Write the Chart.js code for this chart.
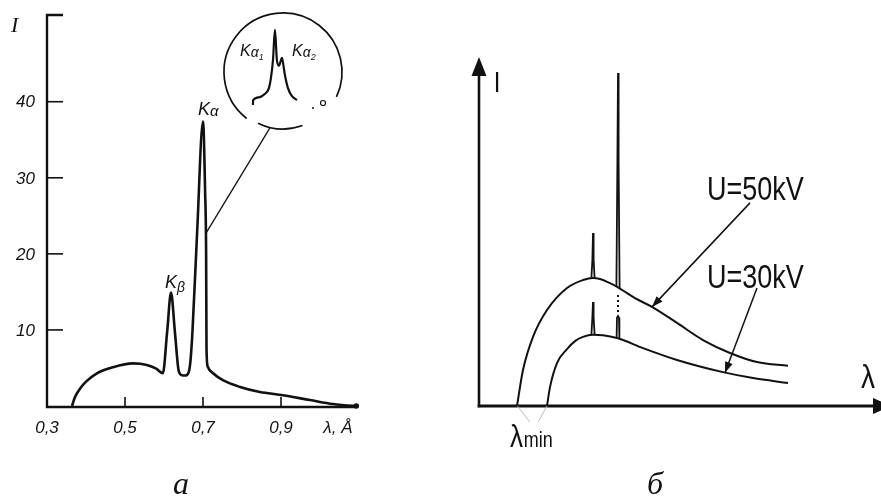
<!DOCTYPE html>
<html>
<head>
<meta charset="utf-8">
<script src="https://cdn.jsdelivr.net/npm/chart.js@4.4.0/dist/chart.umd.min.js"></script>
<style>
  body{margin:0;background:#fff;}
  #wrap{position:relative;width:881px;height:497px;overflow:hidden;background:#fff;}
  canvas{position:absolute;}
</style>
</head>
<body>
<div id="wrap">
  <canvas id="spectrum" width="440" height="497" style="left:0;top:0"></canvas>
  <canvas id="inset" width="136" height="134" style="left:215px;top:5px"></canvas>
  <canvas id="voltage" width="441" height="497" style="left:440px;top:0"></canvas>
</div>
<script>
// ================== DATA: panel a (spectrum) ==================
const lambdaA = [0.364, 0.372, 0.385, 0.400, 0.428, 0.469, 0.520, 0.556, 0.580, 0.597,
  0.608, 0.618, 0.628, 0.637, 0.644, 0.654, 0.663, 0.668, 0.673, 0.685, 0.700,
  0.7055, 0.708, 0.709, 0.712, 0.726, 0.751, 0.795, 0.846, 0.900, 0.974, 1.033, 1.085, 1.095];
const intensityA = [0, 1.2, 2.3, 3.2, 4.3, 5.1, 5.6, 5.4, 4.9, 4.3,
  9.7, 14.9, 9.7, 4.8, 4.1, 4.0, 4.4, 6.0, 9.8, 22.9, 37.4,
  28, 20, 7.5, 5.2, 4.3, 3.4, 2.5, 1.84, 1.45, 0.79, 0.26, 0.02, 0];
const yTicksA = [10, 20, 30, 40];
const xTicksA = [0.3, 0.5, 0.7, 0.9];
const xTickLabelsA = ["0,3", "0,5", "0,7", "0,9"];

// inset: K-alpha doublet
const lambdaInset = [0.6958, 0.6959, 0.6995, 0.7032, 0.7056, 0.7068, 0.7081, 0.7093, 0.7105,
  0.7118, 0.7130, 0.7136, 0.7142, 0.7154, 0.7173, 0.7197, 0.7228];
const intensityInset = [-7, 0, 4, 9, 17, 31, 57, 100, 57, 49, 57, 60, 54, 36, 17, 6, 0];

// ================== DATA: panel б (two voltages) ==================
// continuous spectra
const lambda50 = [9.5, 11, 13.5, 17, 22, 26, 28.5, 30.25, 32.75, 34.75, 39, 43.25, 49.5, 56, 62.75, 69.5, 77.25];
const I50 = [0, 10.3, 19.8, 27.5, 33.8, 36.1, 36.7, 36.4, 35.2, 34.0, 30.9, 28.4, 23.8, 18.9, 15.2, 12.6, 11.5];
const lambda30 = [17, 17.75, 19.5, 22, 24, 26, 28.5, 31, 34.75, 41, 49.5, 61, 68.5, 77.25];
const I30 = [0, 5.4, 12.3, 16.3, 18.6, 19.8, 20.4, 20.3, 19.4, 16.6, 13.2, 9.7, 8.0, 6.6];
// characteristic lines
const lambdaLineB = [28.1, 28.35, 28.5, 28.65, 28.9];
const I50LineB = [36.7, 42, 49.6, 42, 36.6];
const I30LineB = [20.4, 25.5, 29.8, 25.5, 20.4];
const lambdaLineA = [34.35, 34.6, 34.75, 34.9, 35.15];
const I50LineA = [34.2, 70, 95.4, 70, 33.8];
const lambdaStubA = [34.4, 34.5, 34.75, 35.0, 35.1];
const I30StubA = [19.5, 25.3, 25.8, 25.3, 19.3];
const lambdaDots = [34.75, 34.75];
const IDots = [31.8, 26.9];

const INK = '#111';
const toXY = (xs, ys) => xs.map((x, i) => ({x, y: ys[i]}));

// ================== HELPERS ==================
function drawParts(ctx, x, y, parts){
  let cx = x;
  ctx.textAlign = 'left';
  ctx.textBaseline = 'alphabetic';
  parts.forEach(p => {
    ctx.font = `italic ${p.size}px 'Liberation Sans'`;
    ctx.fillText(p.t, cx, y + (p.dy || 0));
    cx += ctx.measureText(p.t).width + (p.gap || 0);
  });
}

function arrowHead(ctx, tx, ty, fx, fy, len, half){
  const d = Math.hypot(tx - fx, ty - fy);
  const ux = (tx - fx) / d, uy = (ty - fy) / d;
  const bx = tx - ux * len, by = ty - uy * len;
  ctx.beginPath();
  ctx.moveTo(tx, ty);
  ctx.lineTo(bx - uy * half, by + ux * half);
  ctx.lineTo(bx + uy * half, by - ux * half);
  ctx.closePath();
  ctx.fill();
}

function stretchedText(ctx, text, x, y, size, align){
  ctx.save();
  ctx.translate(x, y);
  ctx.scale(1, 1.2);
  ctx.font = `${size}px 'Liberation Sans'`;
  ctx.textAlign = align || 'left';
  ctx.textBaseline = 'alphabetic';
  ctx.fillText(text, 0, 0);
  ctx.restore();
}

// ================== PANEL a DECOR ==================
const spectrumDecor = {
  id: 'spectrumDecor',
  afterDraw(chart){
    const {ctx, scales: {x, y}} = chart;
    const px = v => x.getPixelForValue(v), py = v => y.getPixelForValue(v);
    const x0 = px(0.3), y0 = py(0) + 1, yTop = py(y.max);
    ctx.save();
    ctx.strokeStyle = INK; ctx.fillStyle = INK;

    // axes
    ctx.lineWidth = 2.4;
    ctx.beginPath();
    ctx.moveTo(x0 + 16, yTop); ctx.lineTo(x0, yTop); ctx.lineTo(x0, y0); ctx.lineTo(px(1.095), y0);
    ctx.stroke();
    ctx.beginPath(); ctx.arc(px(1.093), y0 - 1, 2.8, 0, Math.PI * 2); ctx.fill();

    // ticks
    ctx.lineWidth = 1.6;
    yTicksA.forEach(v => { ctx.beginPath(); ctx.moveTo(x0, py(v)); ctx.lineTo(x0 + 16, py(v)); ctx.stroke(); });
    xTicksA.slice(1).forEach(v => { ctx.beginPath(); ctx.moveTo(px(v), y0); ctx.lineTo(px(v), y0 - 10); ctx.stroke(); });

    // tick labels
    ctx.font = "italic 17px 'Liberation Sans'";
    ctx.textBaseline = 'middle';
    ctx.textAlign = 'right';
    yTicksA.forEach(v => ctx.fillText(String(v), x0 - 12, py(v) + 1));
    ctx.textAlign = 'center';
    xTicksA.forEach((v, i) => ctx.fillText(xTickLabelsA[i], px(v), y0 + 21));
    ctx.fillText('λ, Å', px(1.046), y0 + 21);

    // axis name
    ctx.font = "italic 22px 'Liberation Serif'";
    ctx.textAlign = 'left';
    ctx.textBaseline = 'alphabetic';
    ctx.fillText('I', 11, 32);

    // peak labels
    drawParts(ctx, px(0.687), py(38.3), [{t: 'K', size: 18}, {t: 'α', size: 15, dy: 1}]);
    drawParts(ctx, px(0.6026), py(15.5), [{t: 'K', size: 18}, {t: 'β', size: 14, dy: 4}]);

    // leader to inset
    ctx.lineWidth = 1.3;
    ctx.beginPath(); ctx.moveTo(px(0.7085), py(22.8)); ctx.lineTo(px(0.872), py(36.6)); ctx.stroke();

    // panel letter
    ctx.font = "italic 32px 'Liberation Serif'";
    ctx.textAlign = 'center';
    ctx.fillText('a', 181, 494);
    ctx.restore();
  }
};

new Chart(document.getElementById('spectrum'), {
  type: 'line',
  data: {datasets: [{
    data: toXY(lambdaA, intensityA),
    borderColor: INK, borderWidth: 2.6, pointRadius: 0,
    cubicInterpolationMode: 'monotone', fill: false, clip: false
  }]},
  options: {
    responsive: false, animation: false,
    layout: {padding: {left: 47, right: 81, top: 15, bottom: 91}},
    scales: {
      x: {type: 'linear', min: 0.3, max: 1.1, display: false},
      y: {type: 'linear', min: 0, max: 51.4, display: false}
    },
    plugins: {legend: {display: false}, tooltip: {enabled: false}}
  },
  plugins: [spectrumDecor]
});

// ================== INSET ==================
const insetDecor = {
  id: 'insetDecor',
  afterDraw(chart){
    const {ctx, chartArea: a} = chart;
    const cx = (a.left + a.right) / 2, cy = (a.top + a.bottom) / 2, r = a.width / 2 - 1;
    const deg = Math.PI / 180;
    ctx.save();
    ctx.strokeStyle = INK; ctx.fillStyle = INK; ctx.lineWidth = 1.7;
    ctx.beginPath(); ctx.arc(cx, cy, r, 128 * deg, 385 * deg); ctx.stroke();
    ctx.beginPath(); ctx.arc(cx, cy, r - 2, 70 * deg, 116 * deg); ctx.stroke();
    ctx.lineWidth = 1.2;
    ctx.beginPath(); ctx.arc(108, 98, 2.5, 0, Math.PI * 2); ctx.stroke();
    ctx.beginPath(); ctx.arc(98, 103, 1, 0, Math.PI * 2); ctx.fill();
    drawParts(ctx, 25, 51, [{t: 'K', size: 16}, {t: 'α', size: 14, dy: 1}, {t: '1', size: 9, dy: 4}]);
    drawParts(ctx, 77, 51, [{t: 'K', size: 16}, {t: 'α', size: 14, dy: 1}, {t: '2', size: 9, dy: 4}]);
    ctx.restore();
  }
};

new Chart(document.getElementById('inset'), {
  type: 'line',
  data: {datasets: [{
    data: toXY(lambdaInset, intensityInset),
    borderColor: INK, borderWidth: 2.2, pointRadius: 0,
    cubicInterpolationMode: 'monotone', fill: false, clip: false
  }]},
  options: {
    responsive: false, animation: false,
    layout: {padding: 8},
    scales: {
      x: {type: 'linear', min: 0.6774, max: 0.7511, display: false},
      y: {type: 'linear', min: -44, max: 124, display: false}
    },
    plugins: {legend: {display: false}, tooltip: {enabled: false}}
  },
  plugins: [insetDecor]
});

// ================== PANEL б DECOR ==================
const voltageDecor = {
  id: 'voltageDecor',
  afterDraw(chart){
    const {ctx, scales: {x, y}} = chart;
    const px = v => x.getPixelForValue(v), py = v => y.getPixelForValue(v);
    ctx.save();
    ctx.strokeStyle = INK; ctx.fillStyle = INK;

    // axes with arrows
    ctx.lineWidth = 2.6;
    ctx.beginPath(); ctx.moveTo(px(0), py(0) + 1.3); ctx.lineTo(px(0), py(95)); ctx.stroke();
    arrowHead(ctx, px(0), py(100), px(0), py(0), 19, 7.5);
    ctx.lineWidth = 3;
    ctx.beginPath(); ctx.moveTo(px(0) - 1.3, py(0)); ctx.lineTo(px(99), py(0)); ctx.stroke();
    arrowHead(ctx, px(103), py(0), px(0), py(0), 18, 8);

    // pointer arrows
    ctx.lineWidth = 1.5;
    [[67.75, 58.2, 43.25, 28.4], [69.5, 33.8, 61.5, 9.5]].forEach(([a, b, c, d]) => {
      ctx.beginPath(); ctx.moveTo(px(a), py(b)); ctx.lineTo(px(c), py(d)); ctx.stroke();
      arrowHead(ctx, px(c), py(d), px(a), py(b), 11, 4);
    });

    // lambda_min guides
    ctx.strokeStyle = '#bbb'; ctx.lineWidth = 1;
    ctx.beginPath();
    ctx.moveTo(px(9.6), py(0)); ctx.lineTo(px(12.75), py(-4.6));
    ctx.moveTo(px(17), py(0)); ctx.lineTo(px(14.75), py(-4.6));
    ctx.stroke();

    // labels
    stretchedText(ctx, 'I', px(4.5), py(90), 24, 'center');
    stretchedText(ctx, 'λ', px(95.5), py(5.2), 28, 'left');
    stretchedText(ctx, 'U=50kV', px(57), py(59.0), 27, 'left');
    stretchedText(ctx, 'U=30kV', px(57), py(33.8), 27, 'left');
    stretchedText(ctx, 'λ', px(7.75), py(-11.7), 26, 'left');
    stretchedText(ctx, 'min', px(11.2), py(-11.7), 18, 'left');

    ctx.font = "italic 32px 'Liberation Serif'";
    ctx.textAlign = 'center';
    ctx.textBaseline = 'alphabetic';
    ctx.fillText('б', px(44), 494);
    ctx.restore();
  }
};

const smooth = {borderColor: INK, borderWidth: 2, pointRadius: 0,
  cubicInterpolationMode: 'monotone', fill: false, clip: false};
const sharp = {borderColor: INK, borderWidth: 1.8, pointRadius: 0,
  tension: 0, fill: false, clip: false};

new Chart(document.getElementById('voltage'), {
  type: 'line',
  data: {datasets: [
    {...smooth, data: toXY(lambda50, I50)},
    {...smooth, data: toXY(lambda30, I30)},
    {...sharp, data: toXY(lambdaLineB, I50LineB)},
    {...sharp, data: toXY(lambdaLineB, I30LineB)},
    {...sharp, data: toXY(lambdaLineA, I50LineA)},
    {...sharp, data: toXY(lambdaStubA, I30StubA)},
    {...sharp, borderWidth: 2, borderDash: [2, 3], data: toXY(lambdaDots, IDots)}
  ]},
  options: {
    responsive: false, animation: false,
    layout: {padding: {left: 39, right: 2, top: 57, bottom: 91}},
    scales: {
      x: {type: 'linear', min: 0, max: 100, display: false},
      y: {type: 'linear', min: 0, max: 100, display: false}
    },
    plugins: {legend: {display: false}, tooltip: {enabled: false}}
  },
  plugins: [voltageDecor]
});
</script>
</body>
</html>
